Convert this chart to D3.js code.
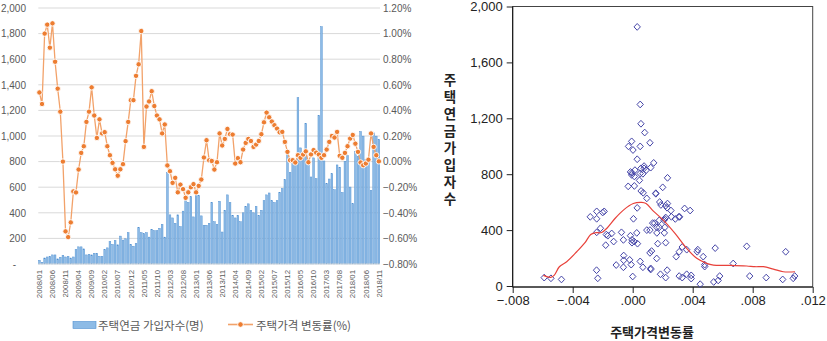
<!DOCTYPE html>
<html><head><meta charset="utf-8">
<script src="https://cdn.jsdelivr.net/npm/d3@7"></script>
<style>body{margin:0;background:#fff;} svg{display:block;}</style>
</head><body>
<svg id="c" width="827" height="341"></svg>
<script>
// ---------- DATA ----------
const startYear = 2008, startMonth = 1, monthCount = 131;
const months = [];
for (let i = 0; i < monthCount; i++) {
  const m = startMonth - 1 + i;
  months.push(`${startYear + Math.floor(m / 12)}/${String(m % 12 + 1).padStart(2, '0')}`);
}
const tickLabels = ["2008/01","2008/06","2008/11","2009/04","2009/09","2010/02","2010/07","2010/12",
  "2011/05","2011/10","2012/03","2012/08","2013/01","2013/06","2013/11","2014/04","2014/09","2015/02",
  "2015/07","2015/12","2016/05","2016/10","2017/03","2017/08","2018/01","2018/06","2018/11"];

// 주택연금 가입자수 (명)
const subscribers = [
  29,13,47,55,60,71,71,40,53,68,
  55,60,47,55,113,134,134,118,71,76,
  71,84,84,60,60,113,126,176,153,184,
  150,218,187,197,245,153,139,161,284,245,
  237,245,210,271,260,260,279,310,210,713,
  384,360,318,384,292,413,495,481,526,368,
  534,534,376,303,303,318,481,330,310,490,
  250,420,540,480,380,360,380,330,400,450,
  470,420,400,450,380,420,495,540,555,495,
  480,495,560,590,660,858,716,784,795,1299,
  907,842,1098,810,680,829,667,1161,1854,805,
  627,664,706,580,774,756,559,803,847,601,
  471,881,842,1035,999,816,829,575,1025,999,
  973];

// 주택가격 변동률 (%)
const priceChange = [
  0.54,0.45,1.00,1.07,0.89,1.08,0.78,0.57,0.39,0.00,
  -0.545,-0.59,-0.475,-0.233,-0.241,-0.062,0.068,0.12,0.31,0.39,
  0.58,0.36,0.185,0.33,0.22,0.23,0.12,0.05,-0.01,-0.06,
  -0.11,-0.06,-0.02,0.16,0.31,0.48,0.48,0.67,0.76,1.02,
  0.115,0.43,0.47,0.55,0.434,0.36,0.33,0.22,0.29,-0.03,
  -0.075,-0.166,-0.127,-0.24,-0.18,-0.215,-0.283,-0.24,-0.20,-0.176,
  -0.24,-0.19,-0.14,0.032,0.167,0.01,0.005,-0.062,-0.005,0.22,
  0.126,0.177,0.255,0.214,0.211,-0.015,0.027,-0.005,0.094,0.146,
  0.177,0.161,0.115,0.133,0.161,0.214,0.307,0.383,0.346,0.313,
  0.284,0.258,0.229,0.232,0.154,0.076,0.011,0.011,-0.007,0.05,
  0.03,0.055,0.08,-0.005,0.056,0.09,0.07,0.055,0.03,0.05,
  0.094,0.154,0.2,0.188,0.232,0.045,0.03,0.068,0.12,0.18,
  0.208,0.14,0.076,-0.007,-0.028,-0.015,0.015,0.22,0.115,0.05,
  0.002];

const leftTicks = [0,200,400,600,800,1000,1200,1400,1600,1800,2000];
const rightTicks = [-0.8,-0.6,-0.4,-0.2,0,0.2,0.4,0.6,0.8,1.0,1.2];

const scatterXTicks = [-0.008,-0.004,0,0.004,0.008,0.012];
const scatterYTicks = [0,400,800,1200,1600,2000];

// fitted (loess) curve
const loessX = [-0.00596,-0.00547,-0.00524,-0.00489,-0.0044,-0.00373,-0.00318,-0.0028,-0.00251,-0.00207,
  -0.00169,-0.00118,-0.00062,0.00004,0.0006,0.00089,0.00138,0.00204,0.00282,0.0036,
  0.00427,0.00493,0.00538,0.00649,0.0076,0.00816,0.00871,0.00938,0.01004,0.01082];
const loessY = [76,62,76,138,174,245,310,369,381,383,
  417,483,543,590,598,590,536,471,376,269,
  198,162,150,148,143,138,138,121,102,102];

const barLegend = "주택연금 가입자수(명)";
const lineLegend = "주택가격 변동률(%)";
const scatterXTitle = "주택가격변동률";
const scatterYTitle = "주택연금가입자수";

// ---------- DRAW ----------
const svg = d3.select("#c");
const numFont = "'Liberation Sans', Arial, sans-serif";
const korFont = "'Noto Sans CJK KR', sans-serif";
const gray = "#595959";
const barFill = "#8dbbe6", barEdge = "#4f8fd0", lineColor = "#ed7d31";

// Left combo chart
const L = {x0: 38.3, x1: 380, yTop: 8, yBot: 264};
const x = d3.scaleBand().domain(months).range([L.x0, L.x1]).paddingInner(0.34).paddingOuter(0.1);
const yL = d3.scaleLinear().domain([0, 2000]).range([L.yBot, L.yTop]);
const yR = d3.scaleLinear().domain([-0.8, 1.2]).range([L.yBot, L.yTop]);

const left = svg.append("g");
left.append("g").selectAll("line").data(leftTicks.slice(1)).join("line")
  .attr("x1", L.x0).attr("x2", L.x1).attr("y1", d => yL(d)).attr("y2", d => yL(d))
  .attr("stroke", "#d9d9d9").attr("stroke-width", 1);

// bars
left.append("g").selectAll("rect").data(subscribers).join("rect")
  .attr("x", (d, i) => x(months[i]))
  .attr("width", x.bandwidth())
  .attr("y", d => yL(d))
  .attr("height", d => yL(0) - yL(d))
  .attr("fill", barFill)
  .attr("stroke", barEdge).attr("stroke-width", 0.45);

// baseline
left.append("line").attr("x1", L.x0).attr("x2", L.x1).attr("y1", yL(0)).attr("y2", yL(0))
  .attr("stroke", "#d9d9d9");

// line
const lineGen = d3.line().x((d, i) => x(months[i]) + x.bandwidth() / 2).y(d => yR(d));
left.append("path").datum(priceChange).attr("d", lineGen)
  .attr("fill", "none").attr("stroke", "#f2a26a").attr("stroke-width", 1.3);
left.append("g").selectAll("circle").data(priceChange).join("circle")
  .attr("cx", (d, i) => x(months[i]) + x.bandwidth() / 2)
  .attr("cy", d => yR(d)).attr("r", 2.7)
  .attr("fill", lineColor).attr("stroke", "#fff").attr("stroke-width", 0.9);

// left axis
const axL = left.append("g").attr("transform", `translate(${29},0)`)
  .call(d3.axisLeft(yL).tickValues(leftTicks).tickSize(0).tickPadding(3)
    .tickFormat(d => d === 0 ? "-" : d3.format(",")(d)));
axL.select(".domain").remove();
axL.selectAll("text").attr("font-family", numFont).attr("font-size", 10).attr("fill", gray);
axL.selectAll(".tick").filter(d => d === 0).select("text").attr("x", -13);

// right axis
const axR = left.append("g").attr("transform", `translate(${L.x1},0)`)
  .call(d3.axisRight(yR).tickValues(rightTicks).tickSize(0).tickPadding(3)
    .tickFormat(d => d3.format(".2f")(d) + "%"));
axR.select(".domain").remove();
axR.selectAll("text").attr("font-family", numFont).attr("font-size", 10).attr("fill", gray);

// x axis
const axX = left.append("g").attr("transform", `translate(0,${L.yBot})`)
  .call(d3.axisBottom(x).tickValues(tickLabels).tickSize(0));
axX.select(".domain").remove();
axX.selectAll("text").attr("font-family", numFont).attr("font-size", 7.8).attr("fill", gray)
  .attr("transform", "rotate(-90)").attr("text-anchor", "end")
  .attr("x", -6).attr("y", 0).attr("dy", "0.35em");

// legend
const lg = left.append("g");
lg.append("rect").attr("x", 73).attr("y", 321.5).attr("width", 23).attr("height", 7)
  .attr("fill", barFill).attr("stroke", barEdge).attr("stroke-width", 0.6);
lg.append("text").attr("x", 98).attr("y", 329.5).text(barLegend)
  .attr("font-family", korFont).attr("font-size", 11.5).attr("fill", gray);
lg.append("line").attr("x1", 228).attr("x2", 253).attr("y1", 324.5).attr("y2", 324.5)
  .attr("stroke", "#f2a26a").attr("stroke-width", 1.6);
lg.append("circle").attr("cx", 240.5).attr("cy", 324.5).attr("r", 2.8)
  .attr("fill", lineColor).attr("stroke", "#fff").attr("stroke-width", 0.9);
lg.append("text").attr("x", 256).attr("y", 329.5).text(lineLegend)
  .attr("font-family", korFont).attr("font-size", 11.5).attr("fill", gray);

// Right scatter chart
const R = {x0: 512.7, x1: 812.7, yTop: 6.5, yBot: 287};
const xs = d3.scaleLinear().domain([-0.008, 0.012]).range([R.x0, R.x1]);
const ys = d3.scaleLinear().domain([0, 2000]).range([R.yBot - 1, R.yTop]);
const right = svg.append("g");

right.append("rect").attr("x", R.x0).attr("y", R.yTop).attr("width", R.x1 - R.x0)
  .attr("height", R.yBot - R.yTop).attr("fill", "none").attr("stroke", "#444").attr("stroke-width", 1);

const fmtX = d => d3.format(".3f")(d).replace("0.", ".");
const axSY = right.append("g").attr("transform", `translate(${R.x0},0)`)
  .call(d3.axisLeft(ys).tickValues(scatterYTicks).tickSize(6).tickPadding(4).tickFormat(d3.format(",")));
axSY.select(".domain").remove();
axSY.selectAll("line").attr("stroke", "#222");
axSY.selectAll("text").attr("font-family", numFont).attr("font-size", 13).attr("fill", "#222");

const axSX = right.append("g").attr("transform", `translate(0,${R.yBot})`)
  .call(d3.axisBottom(xs).tickValues(scatterXTicks).tickSize(6).tickPadding(3).tickFormat(fmtX));
axSX.select(".domain").remove();
axSX.selectAll("line").attr("stroke", "#222");
axSX.selectAll("text").attr("font-family", numFont).attr("font-size", 13).attr("fill", "#222");

right.append("line").attr("x1", R.x0).attr("x2", R.x0).attr("y1", R.yTop).attr("y2", R.yBot).attr("stroke", "#111");
right.append("line").attr("x1", R.x0).attr("x2", R.x1).attr("y1", R.yBot).attr("y2", R.yBot).attr("stroke", "#111");

// scatter points (same monthly data: rate as a fraction vs subscribers)
const pts = subscribers.map((v, i) => ({x: priceChange[i] / 100, y: v}));
const diamond = "M0,-3.4L3.2,0L0,3.4L-3.2,0Z";
right.append("g").selectAll("path").data(pts).join("path")
  .attr("d", diamond)
  .attr("transform", d => `translate(${xs(d.x)},${ys(d.y)})`)
  .attr("fill", "none").attr("stroke", "#4646a8").attr("stroke-width", 1);

// fitted curve
const fit = loessX.map((v, i) => [v, loessY[i]]);
right.append("path").datum(fit)
  .attr("d", d3.line().x(d => xs(d[0])).y(d => ys(d[1])).curve(d3.curveCatmullRom))
  .attr("fill", "none").attr("stroke", "#e8413a").attr("stroke-width", 1.2);

// titles
right.append("text").attr("x", 652).attr("y", 337).attr("text-anchor", "middle")
  .attr("font-family", korFont).attr("font-size", 13).attr("font-weight", 700).attr("fill", "#222")
  .text(scatterXTitle);
right.append("text")
  .attr("x", 450).attr("y", 141)
  .attr("text-anchor", "middle")
  .style("writing-mode", "vertical-rl")
  .style("text-orientation", "upright")
  .attr("letter-spacing", 3.4)
  .attr("font-family", korFont).attr("font-size", 13.5).attr("font-weight", 700).attr("fill", "#222")
  .text(scatterYTitle);
</script>
</body></html>
